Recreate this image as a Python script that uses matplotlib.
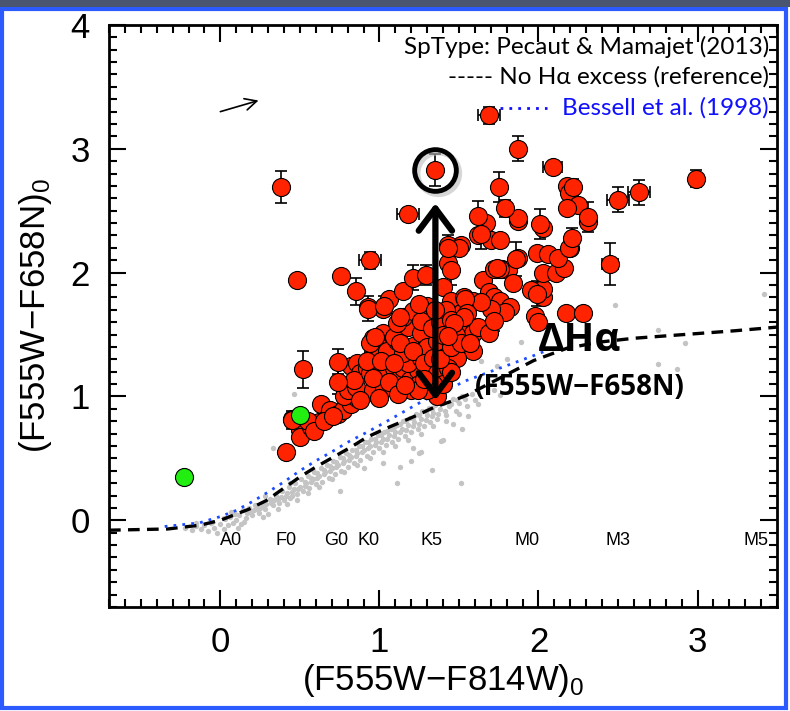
import numpy as np
import matplotlib
matplotlib.use("Agg")
import matplotlib.pyplot as plt
from matplotlib.patches import Rectangle
from matplotlib.ticker import MultipleLocator

plt.rcParams['font.family'] = ['Liberation Sans', 'DejaVu Sans']
plt.rcParams['mathtext.default'] = 'regular'

# no-excess reference locus (dashed)
ref_x = [-0.70, -0.33, -0.20, -0.13, 0.00, 0.08, 0.18, 0.29, 0.40, 0.50, 0.60, 0.71, 0.82, 0.92, 1.02,
         1.13, 1.24, 1.34, 1.45, 1.55, 1.76, 1.97, 2.18, 2.39, 2.60, 2.81, 3.02, 3.23, 3.50]
ref_y = [-0.08, -0.07, -0.05, -0.04, 0.00, 0.04, 0.09, 0.16, 0.26, 0.35, 0.43, 0.51, 0.59, 0.67, 0.73,
         0.79, 0.85, 0.91, 0.96, 1.01, 1.15, 1.29, 1.39, 1.44, 1.47, 1.49, 1.51, 1.53, 1.56]

# Bessell et al. (1998) (dotted)
bess_x = [-0.35, -0.20, -0.13, 0.00, 0.10, 0.20, 0.29, 0.40, 0.50, 0.60, 0.71, 0.80, 0.92, 1.02, 1.13,
          1.24, 1.34, 1.45, 1.55, 1.76, 1.97, 2.09]
bess_y = [-0.05, -0.03, -0.02, 0.03, 0.08, 0.15, 0.22, 0.31, 0.40, 0.48, 0.56, 0.63, 0.71, 0.78, 0.86,
          0.94, 1.01, 1.07, 1.13, 1.23, 1.33, 1.39]

# field stars (grey)
grey_xy = [(-0.22, -0.06), (-0.18, -0.08), (-0.15, -0.05), (-0.12, -0.07), (-0.10, -0.04), (-0.08, -0.09),
           (-0.06, -0.02), (-0.04, -0.06), (-0.02, -0.10), (0.00, -0.03), (0.02, -0.07), (0.03, 0.01),
           (0.05, -0.04), (0.06, 0.03), (0.08, -0.02), (0.09, 0.05), (0.10, 0.00), (0.12, 0.04),
           (0.13, -0.03), (0.14, 0.08), (0.16, 0.02), (0.17, 0.06), (0.18, 0.10), (0.20, 0.04),
           (0.21, 0.08), (0.22, 0.12), (0.24, 0.06), (0.25, 0.10), (0.26, 0.14), (0.28, 0.09),
           (0.29, 0.13), (0.30, 0.05), (0.31, 0.17), (0.33, 0.12), (0.34, 0.16), (0.35, 0.20),
           (0.37, 0.14), (0.38, 0.19), (0.39, 0.24), (0.40, 0.16), (0.42, 0.22), (0.43, 0.27),
           (0.44, 0.18), (0.46, 0.25), (0.47, 0.30), (0.48, 0.21), (0.50, 0.27), (0.51, 0.33),
           (0.52, 0.24), (0.54, 0.30), (0.55, 0.36), (0.56, 0.26), (0.58, 0.33), (0.59, 0.39),
           (0.60, 0.29), (0.62, 0.36), (0.63, 0.42), (0.64, 0.31), (0.66, 0.39), (0.67, 0.45),
           (0.68, 0.34), (0.70, 0.42), (0.71, 0.48), (0.72, 0.37), (0.74, 0.45), (0.75, 0.51),
           (0.76, 0.40), (0.78, 0.48), (0.79, 0.54), (0.80, 0.43), (0.82, 0.51), (0.83, 0.57),
           (0.84, 0.46), (0.86, 0.54), (0.87, 0.60), (0.88, 0.49), (0.90, 0.57), (0.91, 0.63),
           (0.92, 0.52), (0.94, 0.60), (0.95, 0.66), (0.96, 0.55), (0.98, 0.63), (0.99, 0.69),
           (1.00, 0.58), (1.02, 0.66), (1.03, 0.71), (1.04, 0.61), (1.06, 0.69), (1.07, 0.74),
           (1.08, 0.63), (1.10, 0.71), (1.11, 0.77), (1.12, 0.66), (1.14, 0.74), (1.15, 0.80),
           (1.16, 0.68), (1.18, 0.77), (1.19, 0.83), (1.20, 0.71), (1.22, 0.79), (1.23, 0.86),
           (1.24, 0.74), (1.26, 0.82), (1.27, 0.88), (1.28, 0.76), (1.30, 0.85), (1.31, 0.91),
           (1.32, 0.79), (1.34, 0.87), (1.35, 0.93), (1.36, 0.82), (1.38, 0.90), (1.40, 0.95),
           (1.42, 0.85), (1.44, 0.92), (1.46, 0.98), (1.48, 0.88), (1.50, 0.95), (1.52, 1.00),
           (1.55, 0.92), (1.58, 1.02), (1.60, 0.97), (0.45, 0.20), (0.53, 0.28), (0.61, 0.34),
           (0.69, 0.40), (0.77, 0.46), (0.85, 0.52), (0.93, 0.58), (1.01, 0.63), (1.09, 0.68),
           (1.17, 0.73), (1.25, 0.78), (1.33, 0.84), (0.57, 0.31), (0.65, 0.37), (0.73, 0.43),
           (0.81, 0.49), (0.89, 0.55), (0.97, 0.61), (1.05, 0.66), (1.13, 0.71), (1.21, 0.76),
           (1.29, 0.81), (1.37, 0.86), (3.42, 1.83), (2.48, 1.74), (2.75, 1.54), (2.92, 1.43),
           (2.75, 1.26), (2.87, 1.22), (1.89, 1.44), (1.76, 1.01), (1.52, 0.74), (1.39, 0.64),
           (1.33, 0.41), (1.51, 0.30), (1.26, 0.55), (1.21, 0.58), (1.62, 0.94), (1.72, 1.05),
           (1.80, 1.30), (1.74, 1.25), (1.64, 1.29), (0.46, 1.02), (0.33, 0.58), (1.11, 0.30),
           (1.40, 0.65), (1.25, 0.54), (0.75, 0.24), (1.13, 0.43),
           (0.19, 0.07), (0.23, 0.09), (0.27, 0.12), (0.32, 0.14), (0.36, 0.17), (0.41, 0.20),
           (0.45, 0.23), (0.49, 0.25), (0.53, 0.31), (0.57, 0.34), (0.61, 0.38), (0.65, 0.41),
           (0.69, 0.44), (0.73, 0.47), (0.77, 0.50), (0.81, 0.53), (0.85, 0.57), (0.89, 0.60),
           (0.93, 0.63), (0.97, 0.66), (1.01, 0.69), (1.05, 0.72), (1.09, 0.75), (1.13, 0.78),
           (1.17, 0.80), (1.21, 0.83), (1.25, 0.85), (1.29, 0.88), (1.33, 0.90), (1.41, 0.88),
           (1.45, 0.94), (1.49, 0.97), (1.54, 0.98), (0.36, 0.09), (0.42, 0.13), (0.48, 0.16),
           (0.55, 0.22), (0.62, 0.27), (0.70, 0.33), (0.78, 0.39), (0.86, 0.45), (0.94, 0.50),
           (1.02, 0.55), (1.10, 0.60), (1.18, 0.65), (1.26, 0.70), (1.34, 0.76), (1.42, 0.80),
           (1.50, 0.86), (1.56, 0.84), (1.46, 0.78), (0.02, 0.02), (-0.05, -0.01), (-0.15, -0.02),
           (0.07, 0.07), (0.11, -0.06), (0.15, -0.01), (0.27, 0.03), (1.02, 0.46), (0.90, 0.42),
           (1.20, 0.48), (0.28, 0.20), (0.44, 0.30)]

# H-alpha excess stars without error bars
red_xy = [(0.41, 0.55), (0.45, 0.82), (0.50, 0.73), (0.50, 0.67), (0.57, 0.75), (0.61, 0.78), (0.62, 0.79),
          (0.63, 0.94), (0.67, 0.83), (0.69, 0.89), (0.74, 0.86), (0.77, 0.89), (0.82, 0.94), (0.86, 0.99),
          (0.90, 1.02), (0.99, 1.05), (1.09, 1.07), (0.78, 1.00), (0.80, 1.05), (0.85, 1.08),
          (0.82, 1.25), (0.86, 1.27), (0.88, 1.19), (0.84, 1.13), (0.92, 1.23), (0.99, 1.27), (0.94, 1.19),
          (1.01, 1.19), (1.05, 1.21), (1.09, 1.23), (1.13, 1.15), (1.15, 1.23), (1.19, 1.13), (1.24, 1.21),
          (1.30, 1.19), (0.96, 1.05), (1.03, 1.07), (0.96, 1.15), (1.06, 1.12), (1.18, 1.27),
          (0.96, 1.47), (1.02, 1.51), (0.99, 1.41), (0.96, 1.35), (1.05, 1.37), (1.11, 1.45), (1.15, 1.35),
          (1.21, 1.41), (1.26, 1.31), (1.30, 1.45), (0.94, 1.43), (1.09, 1.48), (1.18, 1.56), (1.13, 1.43),
          (1.26, 1.51), (1.30, 1.40), (1.36, 1.45), (1.21, 1.37), (0.92, 1.29), (1.01, 1.29), (1.09, 1.27),
          (1.28, 1.27), (1.34, 1.31), (1.36, 1.19),
          (0.93, 1.72), (1.02, 1.71), (1.06, 1.79), (1.15, 1.64), (1.11, 1.59), (1.21, 1.69), (1.30, 1.73),
          (1.26, 1.61), (1.15, 1.85), (1.25, 1.75), (1.13, 1.64),
          (1.40, 1.88), (1.45, 1.77), (1.43, 1.67), (1.53, 1.80), (1.59, 1.77), (1.51, 1.67), (1.55, 1.59),
          (1.59, 1.51), (1.53, 1.40), (1.59, 1.37), (1.49, 1.31), (1.43, 1.23),
          (1.36, 1.00), (1.40, 1.10), (1.45, 1.20), (1.34, 1.10), (1.38, 1.30), (1.45, 1.40), (1.30, 1.05),
          (1.25, 1.10), (1.20, 1.05), (1.33, 1.55), (1.38, 1.60), (1.42, 1.70), (1.35, 1.70), (1.40, 1.50),
          (1.48, 1.50), (1.45, 1.62),
          (1.43, 2.08), (1.51, 2.22), (1.43, 2.22), (1.62, 2.30), (1.70, 2.26), (1.76, 2.26), (1.73, 2.03),
          (1.77, 2.03), (1.81, 2.02), (1.65, 1.94), (1.69, 1.84), (1.72, 1.80), (1.76, 1.77), (1.82, 1.72),
          (1.79, 1.68), (1.70, 1.71), (1.64, 1.76), (1.54, 1.79), (1.55, 1.67), (1.62, 1.56), (1.69, 1.51),
          (1.53, 1.64), (1.47, 1.59), (1.51, 1.43), (1.43, 1.49), (1.57, 1.43),
          (1.87, 2.12), (1.84, 1.92), (2.03, 1.80), (2.03, 1.87), (2.03, 2.00), (2.11, 2.00), (2.16, 2.04),
          (2.20, 2.20), (1.99, 2.16), (2.06, 2.15), (2.12, 2.12),
          (2.18, 2.70), (2.19, 2.64), (2.25, 2.55), (2.18, 2.52), (2.31, 2.41), (2.19, 2.20), (1.50, 2.20),
          (1.67, 2.40), (1.87, 2.42), (1.87, 2.44), (2.03, 2.36), (2.17, 1.67), (1.98, 1.65), (2.00, 1.60),
          (1.72, 2.03), (1.76, 2.03), (1.74, 2.04), (1.95, 1.86),
          (0.55, 0.80), (0.59, 0.72), (0.65, 0.80), (0.71, 0.84), (0.88, 0.97), (1.00, 0.99), (1.12, 1.02),
          (1.24, 1.05), (1.16, 1.09), (1.28, 1.14)]

# H-alpha excess stars with error bars: x, y, xerr, yerr
err_pts = [(0.38, 2.69, 0, 0.13), (1.35, 2.83, 0, 0.13), (1.18, 2.47, 0.07, 0.05), (0.94, 2.10, 0.07, 0.07),
           (0.48, 1.94, 0, 0.04), (0.76, 1.97, 0, 0.04), (0.85, 1.85, 0, 0.11), (1.69, 3.27, 0.07, 0.07),
           (1.87, 3.00, 0, 0.10), (2.09, 2.85, 0.06, 0.04), (1.75, 2.69, 0, 0.12), (2.50, 2.59, 0.07, 0.10),
           (2.63, 2.65, 0.07, 0.10), (2.99, 2.76, 0, 0.07), (2.45, 2.07, 0.05, 0.17), (0.52, 1.22, 0, 0.15),
           (0.74, 1.28, 0, 0.10), (0.74, 1.12, 0, 0.10), (2.22, 2.69, 0, 0.07), (1.79, 2.52, 0, 0.07),
           (2.31, 2.45, 0, 0.12), (1.62, 2.46, 0, 0.12), (1.64, 2.31, 0, 0.12), (2.01, 2.39, 0, 0.12),
           (1.86, 2.11, 0, 0.14), (1.99, 1.83, 0, 0.10), (2.28, 1.67, 0, 0.05), (0.93, 1.71, 0, 0.10),
           (1.21, 1.96, 0, 0.10), (1.29, 1.98, 0, 0.08), (1.45, 2.02, 0, 0.12), (1.03, 1.73, 0, 0.08),
           (0.97, 1.48, 0.04, 0), (0.45, 0.81, 0, 0.07), (1.43, 2.20, 0, 0.10), (2.21, 2.28, 0, 0.08),
           (1.72, 1.61, 0, 0.08)]

green_x = [-0.23, 0.50]
green_y = [0.35, 0.85]

sptype = ['A0', 'F0', 'G0', 'K0', 'K5', 'M0', 'M3', 'M5']
sptype_x = [0.07, 0.41, 0.73, 0.93, 1.33, 1.93, 2.50, 3.37]

fig = plt.figure(figsize=(7.9, 7.11), dpi=100)
fig.patches.append(Rectangle((0.003, 0.004), 0.992, 0.983, transform=fig.transFigure,
                             fill=False, ec='#2b5bff', lw=3))
fig.patches.append(Rectangle((0, 0.99), 1, 0.01, transform=fig.transFigure, fc='#4a5670', ec='none'))
ax = fig.add_axes([0.138, 0.1463, 0.8456, 0.8186])

gx, gy = np.array(grey_xy).T
ax.scatter(gx, gy, s=15, c='#c4c4c4', lw=0, zorder=1)

ax.plot(ref_x, ref_y, color='black', lw=2.4, dashes=(3.5, 2.2), zorder=2)
ax.plot(bess_x, bess_y, color='#1e4cff', lw=2, dashes=(1, 2.2), zorder=2)

ex, ey, exe, eye = np.array(err_pts).T
ax.errorbar(ex, ey, xerr=exe, yerr=eye, fmt='none', ecolor='black', elinewidth=1.2,
            capsize=4, capthick=1.2, zorder=3)
rx, ry = np.array(red_xy).T
allx = np.concatenate([rx, ex])
ally = np.concatenate([ry, ey])
ax.plot(allx, ally, 'o', ms=13, mfc='#ff2300', mec='black', mew=0.8, zorder=4)
ax.plot(green_x, green_y, 'o', ms=13, mfc='#22ee11', mec='black', mew=0.8, zorder=4)

# highlighted star and Delta H-alpha arrow
hx, hy = err_pts[1][0], err_pts[1][1]
ax.plot(hx + 0.02, hy - 0.025, 'o', ms=30, mfc='none', mec='#bbbbbb', mew=4, alpha=0.6, zorder=5)
ax.plot(hx, hy, 'o', ms=30, mfc='none', mec='black', mew=3.5, zorder=6)
ax.annotate('', xy=(1.352, 2.56), xytext=(1.352, 0.97),
            arrowprops=dict(arrowstyle='<->,head_length=0.8,head_width=0.6', lw=4.5,
                            color='black', mutation_scale=20, shrinkA=0, shrinkB=0), zorder=6)
# reddening vector
ax.annotate('', xy=(0.24, 3.39), xytext=(0.0, 3.30),
            arrowprops=dict(arrowstyle='->,head_length=0.6,head_width=0.3', lw=1.2,
                            color='black', mutation_scale=14, shrinkA=0, shrinkB=0), zorder=6)

ax.text(2.26, 1.45, 'ΔHα', fontsize=29, fontweight='bold', ha='center', va='center',
        family=['Open Sans', 'DejaVu Sans'], zorder=7)
ax.text(2.26, 1.07, '(F555W−F658N)', fontsize=20, fontweight='bold', ha='center', va='center',
        family=['Open Sans', 'DejaVu Sans'], zorder=7)

for s, x in zip(sptype, sptype_x):
    ax.text(x, -0.16, s, fontsize=13, ha='center', va='center', zorder=7)

leg_font = ['Lato', 'DejaVu Sans']
ax.text(0.988, 0.962, 'SpType: Pecaut & Mamajet (2013)', transform=ax.transAxes, ha='right',
        va='center', fontsize=17.5, family=leg_font, zorder=8)
ax.text(0.988, 0.911, '----- No Hα excess (reference)', transform=ax.transAxes, ha='right',
        va='center', fontsize=17.5, family=leg_font, zorder=8)
ax.text(0.988, 0.857, 'Bessell et al. (1998)', transform=ax.transAxes, ha='right',
        va='center', fontsize=17.5, family=leg_font, color='#1010ff', zorder=8)
ax.plot([0.585, 0.655], [0.857, 0.857], transform=ax.transAxes, color='#1010ff', lw=2,
        dashes=(1, 2.2), zorder=8)

ax.set_xlim(-0.7, 3.5)
ax.set_ylim(-0.7, 4.0)
ax.xaxis.set_major_locator(MultipleLocator(1))
ax.xaxis.set_minor_locator(MultipleLocator(0.1))
ax.yaxis.set_major_locator(MultipleLocator(1))
ax.yaxis.set_minor_locator(MultipleLocator(0.1))
ax.tick_params(which='both', direction='in', top=True, right=True, width=1.5)
ax.tick_params(which='major', length=12, labelsize=25, pad=14)
ax.tick_params(which='minor', length=6)
for sp in ax.spines.values():
    sp.set_linewidth(2)

ax.set_xlabel('(F555W−F814W)$_0$', fontsize=25, labelpad=2)
ax.set_ylabel('(F555W−F658N)$_0$', fontsize=25, labelpad=12)

fig.savefig('out.png', dpi=100)
